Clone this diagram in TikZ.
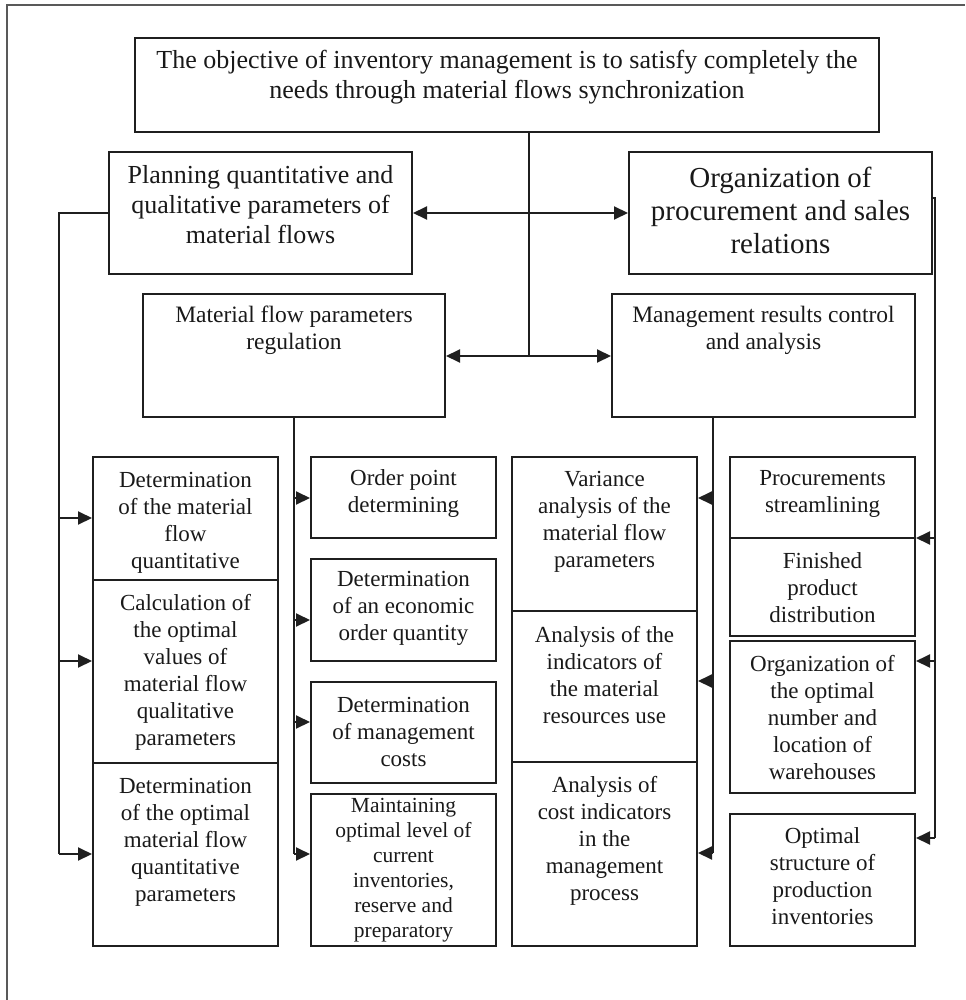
\documentclass[tikz,border=0pt]{standalone}
\usepackage{fontspec}
\setmainfont{Liberation Serif}
\usetikzlibrary{arrows.meta,fit}
\begin{document}
\begin{tikzpicture}[x=0.5pt,y=-0.5pt,
  box/.style={draw=black!88, line width=1pt, inner sep=0pt},
  txt/.style={align=center, inner sep=0pt, text=black!90},
  ln/.style={draw=black!88, line width=1pt},
  arr/.style={ln, -{Triangle[length=7pt,width=6.5pt]}},
  barr/.style={ln, {Triangle[length=7pt,width=6.5pt]}-{Triangle[length=7pt,width=6.5pt]}},
  fA/.style={font=\fontsize{13}{15}\selectfont},
  fB/.style={font=\fontsize{14.5}{16.5}\selectfont},
  fC/.style={font=\fontsize{11.75}{13.5}\selectfont},
  fD/.style={font=\fontsize{11.5}{13.5}\selectfont},
  fE/.style={font=\fontsize{10.75}{12.5}\selectfont},
  frame/.style={draw=black!65, line width=0.75pt}
]
\useasboundingbox (0,0) rectangle (965,1000);
\draw[frame] (7,1000) -- (7,5) -- (965,5);

% top level
\node[box, fit={(135,38) (879,132)}] (top) {};
\node[txt, fA] (topt) at (507,77) {The objective of inventory management is to satisfy completely the\\needs through material flows synchronization};

\node[box, fit={(109,152) (412,274)}] (plan) {};
\node[txt, fA] (plant) at (260.5,205) {Planning quantitative and\\qualitative parameters of\\material flows};

\node[box, fit={(629,152) (932,274)}] (org) {};
\node[txt, fB] (orgt) at (780.5,210) {Organization of\\procurement and sales\\relations};

\node[box, fit={(143,294) (445,417)}] (mat) {};
\node[txt, fC] (matt) at (294,330.5) {Material flow parameters\\regulation};

\node[box, fit={(612,294) (915,417)}] (mgt) {};
\node[txt, fC] (mgtt) at (763.5,330.5) {Management results control\\and analysis};

% column 1
\node[box, fit={(93,457) (278,580)}] (b1) {};
\node[txt, fD] (b1t) at (185.5,522.5) {Determination\\of the material\\flow\\quantitative};
\node[box, fit={(93,580) (278,763)}] (b2) {};
\node[txt, fD] (b2t) at (185.5,672) {Calculation of\\the optimal\\values of\\material flow\\qualitative\\parameters};
\node[box, fit={(93,763) (278,946)}] (b3) {};
\node[txt, fD] (b3t) at (185.5,842) {Determination\\of the optimal\\material flow\\quantitative\\parameters};

% column 2
\node[box, fit={(311,457) (496,538)}] (c1) {};
\node[txt, fD] (c1t) at (403.5,493.5) {Order point\\determining};
\node[box, fit={(311,559) (496,661)}] (c2) {};
\node[txt, fD] (c2t) at (403.5,608) {Determination\\of an economic\\order quantity};
\node[box, fit={(311,682) (496,783)}] (c3) {};
\node[txt, fD] (c3t) at (403.5,731.5) {Determination\\of management\\costs};
\node[box, fit={(311,794) (496,946)}] (c4) {};
\node[txt, fE] (c4t) at (403.5,870) {Maintaining\\optimal level of\\current\\inventories,\\reserve and\\preparatory};

% column 3
\node[box, fit={(512,457) (697,611)}] (d1) {};
\node[txt, fD] (d1t) at (604.5,521.5) {Variance\\analysis of the\\material flow\\parameters};
\node[box, fit={(512,611) (697,762)}] (d2) {};
\node[txt, fD] (d2t) at (604.5,675.5) {Analysis of the\\indicators of\\the material\\resources use};
\node[box, fit={(512,762) (697,946)}] (d3) {};
\node[txt, fD] (d3t) at (604.5,841) {Analysis of\\cost indicators\\in the\\management\\process};

% column 4
\node[box, fit={(730,457) (915,538)}] (e1) {};
\node[txt, fD] (e1t) at (822.5,493.5) {Procurements\\streamlining};
\node[box, fit={(730,538) (915,636)}] (e2) {};
\node[txt, fD] (e2t) at (822.5,587.5) {Finished\\product\\distribution};
\node[box, fit={(730,641) (915,793)}] (e3) {};
\node[txt, fD] (e3t) at (822.5,717.5) {Organization of\\the optimal\\number and\\location of\\warehouses};
\node[box, fit={(730,814) (915,946)}] (e4) {};
\node[txt, fD] (e4t) at (822.5,876.5) {Optimal\\structure of\\production\\inventories};

% junction coordinates
\coordinate (J) at (529,356);
\coordinate (L0) at (59,213);
\coordinate (L1) at (59,518);
\coordinate (L2) at (59,661);
\coordinate (L3) at (59,854);
\coordinate (M1) at (294,498);
\coordinate (M2) at (294,620);
\coordinate (M3) at (294,722);
\coordinate (M4) at (294,854);
\coordinate (N1) at (713,498);
\coordinate (N2) at (713,681);
\coordinate (N3) at (713,853);
\coordinate (R0) at (935,198);
\coordinate (R1) at (935,538);
\coordinate (R2) at (935,661);
\coordinate (R3) at (935,838);

% top connectors
\draw[ln] (top.south -| J) -- (J);
\draw[barr] (mat.east |- J) -- (mgt.west |- J);
\draw[barr] (plan.east) -- (org.west);

% left trunk
\draw[ln] (plan.west) -- (L0) -- (L3);
\draw[arr] (L1) -- (L1 -| b1.west);
\draw[arr] (L2) -- (L2 -| b2.west);
\draw[arr] (L3) -- (L3 -| b3.west);

% material trunk
\draw[ln] (mat.south -| M1) -- (M4);
\draw[arr] (M1) -- (M1 -| c1.west);
\draw[arr] (M2) -- (M2 -| c2.west);
\draw[arr] (M3) -- (M3 -| c3.west);
\draw[arr] (M4) -- (M4 -| c4.west);

% management trunk
\draw[ln] (mgt.south -| N1) -- (N3);
\draw[arr] (N1) -- (N1 -| d1.east);
\draw[arr] (N2) -- (N2 -| d2.east);
\draw[arr] (N3) -- (N3 -| d3.east);

% right trunk
\draw[ln] (org.east |- R0) -- (R0) -- (R3);
\draw[arr] (R1) -- (R1 -| e1.east);
\draw[arr] (R2) -- (R2 -| e3.east);
\draw[arr] (R3) -- (R3 -| e4.east);
\end{tikzpicture}
\end{document}
